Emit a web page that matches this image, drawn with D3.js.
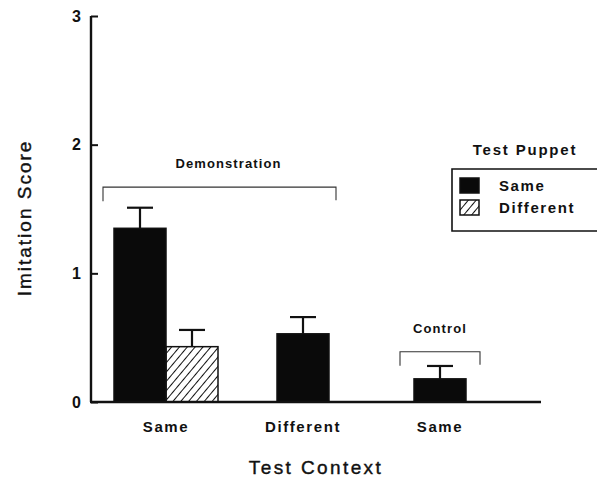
<!DOCTYPE html>
<html>
<head>
<meta charset="utf-8">
<script src="https://cdn.jsdelivr.net/npm/d3@7"></script>
<style>
  body { margin: 0; background: #fff; }
  text { font-family: "Liberation Sans", Arial, Helvetica, sans-serif; fill: #111; }
</style>
</head>
<body>
<svg id="chart" width="597" height="479"></svg>
<script>
// test context groups (keys), their labels, and bars inside them
const groups = ["same", "different", "control"];
const groupLabels = ["Same", "Different", "Same"];
const puppets = ["Same", "Different"];

// one row per bar: group, puppet, mean, error
const barGroup  = ["same", "same", "different", "control"];
const barPuppet = ["Same", "Different", "Same", "Same"];
const barMean   = [1.35, 0.43, 0.53, 0.18];
const barErr    = [0.16, 0.13, 0.13, 0.10];

const yTicks = [0, 1, 2, 3];

// annotation brackets over groups
const bracketLabels = ["Demonstration", "Control"];
const bracketFrom   = ["same", "control"];
const bracketTo     = ["different", "control"];
const bracketLevel  = [1.67, 0.39];

const svg = d3.select("#chart");
const barW = 52;

const y = d3.scaleLinear().domain([0, 3]).range([402, 16]);
const x = d3.scalePoint().domain(groups).range([166, 440]);

const bars = barMean.map((v, i) => {
    const inGroup = barGroup.filter(g => g === barGroup[i]).length;
    const idx = barGroup.slice(0, i).filter(g => g === barGroup[i]).length;
    const left = x(barGroup[i]) - inGroup * barW / 2 + idx * barW;
    return { group: barGroup[i], puppet: barPuppet[i], mean: v, err: barErr[i], x0: left };
});

// hatch pattern
const defs = svg.append("defs");
defs.append("pattern")
    .attr("id", "hatch")
    .attr("patternUnits", "userSpaceOnUse")
    .attr("width", 6).attr("height", 6)
    .attr("patternTransform", "rotate(40)")
  .append("line")
    .attr("x1", 0).attr("y1", 0).attr("x2", 0).attr("y2", 6)
    .attr("stroke", "#111").attr("stroke-width", 2);

const fill = p => p === "Same" ? "#0a0a0a" : "url(#hatch)";

// error bars
const eb = svg.append("g").attr("stroke", "#111").attr("stroke-width", 2.2);
eb.selectAll("line.v").data(bars).join("line")
    .attr("x1", d => d.x0 + barW / 2).attr("x2", d => d.x0 + barW / 2)
    .attr("y1", d => y(d.mean)).attr("y2", d => y(d.mean + d.err));
eb.selectAll("line.c").data(bars).join("line")
    .attr("x1", d => d.x0 + barW / 2 - 13).attr("x2", d => d.x0 + barW / 2 + 13)
    .attr("y1", d => y(d.mean + d.err)).attr("y2", d => y(d.mean + d.err));

// bars
svg.append("g").selectAll("rect").data(bars).join("rect")
    .attr("x", d => d.x0)
    .attr("y", d => y(d.mean))
    .attr("width", barW)
    .attr("height", d => y(0) - y(d.mean))
    .attr("fill", d => fill(d.puppet))
    .attr("stroke", "#111")
    .attr("stroke-width", 1.5);

// y axis
const yAxis = svg.append("g")
    .attr("transform", "translate(91,0)")
    .call(d3.axisRight(y).tickValues(yTicks).tickSize(7).tickFormat(d3.format("d")));
yAxis.select(".domain").attr("d", `M0,${y(3)}V${y(0)}`).attr("stroke-width", 2.4).attr("stroke", "#111");
yAxis.selectAll(".tick line").attr("stroke-width", 2).attr("stroke", "#111");
yAxis.selectAll(".tick text")
    .attr("x", -10).attr("text-anchor", "end")
    .attr("font-size", 16).attr("font-weight", "bold");

// x axis baseline
svg.append("line")
    .attr("x1", 90).attr("x2", 541)
    .attr("y1", y(0)).attr("y2", y(0))
    .attr("stroke", "#111").attr("stroke-width", 2.4);

// x tick labels
svg.append("g").selectAll("text").data(groups).join("text")
    .attr("x", g => x(g))
    .attr("y", 432)
    .attr("text-anchor", "middle")
    .attr("font-size", 15).attr("font-weight", "bold")
    .attr("letter-spacing", 1.6)
    .text((g, i) => groupLabels[i]);

// axis titles
svg.append("text")
    .attr("x", 316).attr("y", 474)
    .attr("text-anchor", "middle")
    .attr("font-size", 19).attr("letter-spacing", 2.4)
    .attr("stroke", "#111").attr("stroke-width", 0.4)
    .text("Test Context");

svg.append("text")
    .attr("transform", "translate(31,218) rotate(-90)")
    .attr("text-anchor", "middle")
    .attr("font-size", 19).attr("letter-spacing", 2)
    .attr("stroke", "#111").attr("stroke-width", 0.4)
    .text("Imitation Score");

// brackets
const br = bracketLabels.map((l, i) => {
    const single = bracketFrom[i] === bracketTo[i];
    const left = bars.filter(b => b.group === bracketFrom[i]);
    const right = bars.filter(b => b.group === bracketTo[i]);
    const x0 = d3.min(left, b => b.x0) - (single ? 14 : 11);
    const x1 = d3.max(right, b => b.x0 + barW) + (single ? 14 : 7);
    return { label: l, x0, x1, yy: y(bracketLevel[i]), single };
});
const bg = svg.append("g");
bg.selectAll("path").data(br).join("path")
    .attr("d", d => `M${d.x0},${d.yy + 14}V${d.yy}H${d.x1}V${d.yy + 13}`)
    .attr("fill", "none").attr("stroke", "#333").attr("stroke-width", 1.1);
bg.selectAll("text").data(br).join("text")
    .attr("x", d => (d.x0 + d.x1) / 2 + (d.single ? 0 : 9))
    .attr("y", d => d.yy - 19)
    .attr("text-anchor", "middle")
    .attr("font-size", 13).attr("font-weight", "bold")
    .attr("letter-spacing", 1.1)
    .text(d => d.label);

// legend
const lg = svg.append("g");
lg.append("text")
    .attr("x", 525).attr("y", 155)
    .attr("text-anchor", "middle")
    .attr("font-size", 15).attr("font-weight", "bold").attr("letter-spacing", 1.8)
    .text("Test Puppet");
lg.append("path")
    .attr("d", "M600,169H452V231H600")
    .attr("fill", "none").attr("stroke", "#111").attr("stroke-width", 1.6);
const item = lg.selectAll("g.item").data(puppets).join("g")
    .attr("transform", (d, i) => `translate(460,${178 + i * 22})`);
item.append("rect")
    .attr("width", 19).attr("height", 15)
    .attr("fill", d => fill(d))
    .attr("stroke", "#111").attr("stroke-width", 1.5);
item.append("text")
    .attr("x", 39).attr("y", 13)
    .attr("font-size", 15).attr("font-weight", "bold").attr("letter-spacing", 1.6)
    .text(d => d);
</script>
</body>
</html>
